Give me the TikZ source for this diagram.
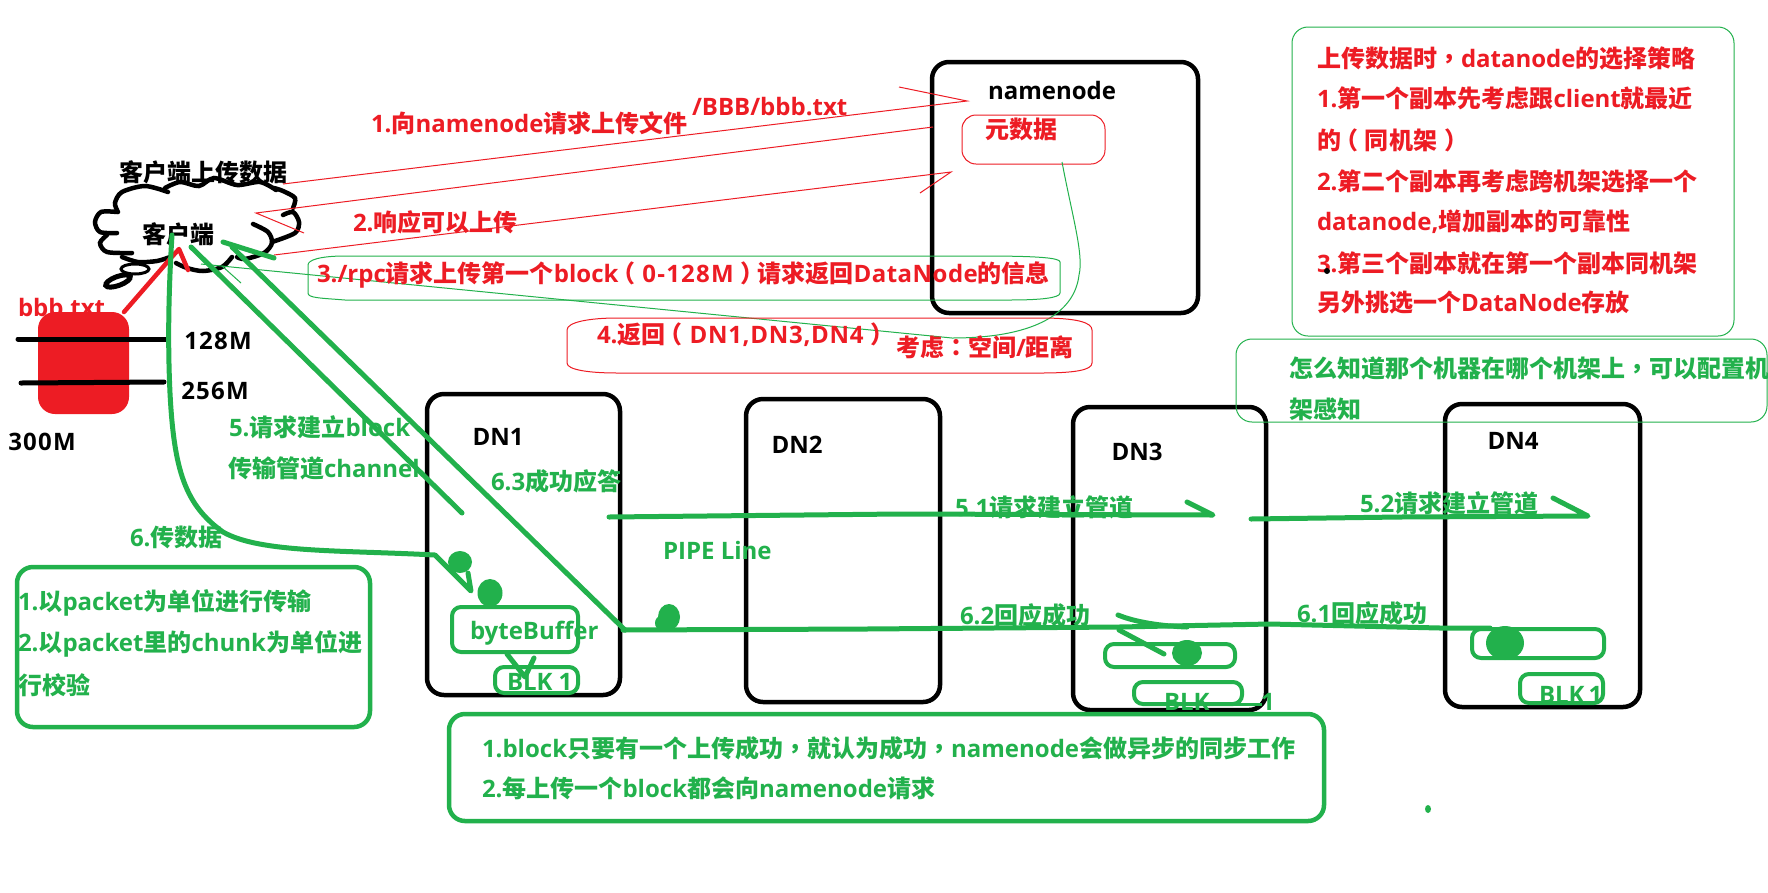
\documentclass[tikz,border=0pt]{standalone}
\usepackage{fontspec}
\setmainfont{Open Sans}
\newfontfamily\cjkfam{Noto Sans CJK SC}
\newfontfamily\cjktc{Noto Sans CJK TC}
\newcommand{\C}[1]{{\cjkfam\bfseries #1}}
\newcommand{\CM}{{\cjktc\bfseries ，}}
\newcommand{\CL}{{\cjktc\bfseries ：}}
\newcommand{\LP}{\hspace{-7pt}{\cjkfam\bfseries （}\hspace{7pt}}
\newcommand{\RP}{\hspace{7pt}{\cjkfam\bfseries ）}\hspace{-7pt}}
\newcommand{\W}[2][5]{{\addfontfeature{LetterSpace=#1}#2}}
\definecolor{pred}{HTML}{ED1C24}
\definecolor{pgreen}{HTML}{22B14C}
\tikzset{
  x=1pt,y=-1pt,
  lab/.style={inner sep=0pt,outer sep=0pt,font=\fontsize{24}{24}\selectfont\bfseries},
  redlab/.style={lab,text=pred,anchor=west},
  greenlab/.style={lab,text=pgreen,anchor=west},
  blacklab/.style={lab,text=black},
  blackbox/.style={draw=black,line width=4.5pt,rounded corners=17pt,inner sep=0pt,outer sep=0pt},
  greenbox/.style={draw=pgreen,line width=4.5pt,rounded corners=16pt,inner sep=0pt,outer sep=0pt},
  smallbox/.style={draw=pgreen,line width=4pt,rounded corners=9pt,inner sep=0pt,outer sep=0pt},
  thingreen/.style={draw=pgreen,line width=1pt,rounded corners=16pt,inner sep=0pt,outer sep=0pt},
  thinred/.style={draw=pred,line width=1pt,rounded corners=14pt,inner sep=0pt,outer sep=0pt},
  redthin/.style={draw=pred,line width=1pt},
  greenthin/.style={draw=pgreen,line width=1pt},
  greenthick/.style={draw=pgreen,line width=5pt,line cap=round,line join=round},
  redthick/.style={draw=pred,line width=4.5pt,line cap=round,line join=round},
  cloudline/.style={draw=black,line width=4.5pt,line cap=round},
  blob/.style={ellipse,fill=pgreen,inner sep=0pt,outer sep=0pt},
}
\usetikzlibrary{shapes.geometric}
\newcommand{\bx}[6]{\node[#1,minimum width={(#5-#3)*1pt},minimum height={(#6-#4)*1pt}] (#2) at ({(#3+#5)/2},{(#4+#6)/2}) {};}
\begin{document}
\begin{tikzpicture}
\path[fill=white,use as bounding box] (0,0) rectangle (1768,892);
\clip (0,0) rectangle (1768,892);

% black machine boxes
\bx{blackbox}{nn}{932}{62}{1198}{313}
\bx{blackbox}{dn1}{427}{394}{620}{695}
\bx{blackbox}{dn2}{746}{399}{940}{702}
\bx{blackbox}{dn3}{1073}{407}{1266}{710}
\bx{blackbox}{dn4}{1445}{404}{1640}{707}
\node[blacklab] (nnt) at (1052,90) {namenode};
\node[blacklab] (d1t) at (498,437) {DN1};
\node[blacklab] (d2t) at (797,445) {DN2};
\node[blacklab] (d3t) at (1137,452) {DN3};
\node[blacklab] (d4t) at (1513,441) {DN4};

% cloud
\draw[cloudline] plot[smooth] coordinates {(168,192)(145,186)(122,192)(115,203)(118,212)};
\draw[cloudline] plot[smooth] coordinates {(117,212)(101,212)(95,222)(100,232)(117,233)};
\draw[cloudline] plot[smooth] coordinates {(107,235)(100,243)(107,252)(132,253)};
\draw[cloudline] plot[smooth] coordinates {(122,257)(138,262)(157,261)(170,257)};
\draw[cloudline] plot[smooth] coordinates {(176,263)(187,268)(203,271)(222,267)(232,257)};
\draw[cloudline] plot[smooth] coordinates {(253,224)(268,232)(272,243)(264,253)(245,259)(237,257)};
\draw[cloudline] plot[smooth] coordinates {(272,242)(295,233)(299,222)(293,212)(283,215)};
\draw[cloudline] plot[smooth] coordinates {(293,208)(295,198)(283,191)(274,188)};
\draw[cloudline] plot[smooth] coordinates {(165,188)(180,182)(199,186)(214,178)(237,185)(260,182)(276,190)};
\node[ellipse,draw=black,line width=3pt,minimum width=28pt,minimum height=10pt,inner sep=0pt] (bub1) at (135,269) {};
\node[ellipse,draw=black,fill=white,line width=5pt,minimum width=26pt,minimum height=9pt,inner sep=0pt,rotate=20] (bub2) at (118,281) {};
\node[blacklab] (ctitle) at (203,172) {\C{客户端上传数据}};
\node[blacklab] (client) at (178,234) {\C{客户端}};

% file
\node[redlab] (fname) at (18,308) {bbb.txt};
\node[fill=pred,rounded corners=17pt,minimum width=91pt,minimum height=102pt,inner sep=0pt,outer sep=0pt] (file) at (83.5,363) {};
\coordinate (f1) at (124,312);
\coordinate (f2) at (170,259);
\coordinate (f3) at (179,249);
\coordinate (f4) at (188,270);
\draw[redthick] (f1) -- (f2) -- (f3) -- (f4);
\coordinate (c1a) at (18,339); \coordinate (c1b) at (168,339);
\coordinate (c2a) at (21,383); \coordinate (c2b) at (164,382);
\draw[black,line width=5pt,line cap=round] (c1a) -- (c1b);
\draw[black,line width=5pt,line cap=round] (c2a) -- (c2b);
\node[blacklab] (m128) at (218,341) {\W{128M}};
\node[blacklab] (m256) at (215,391) {\W{256M}};
\node[blacklab] (m300) at (42,442) {\W{300M}};

% red thin arrows
\coordinate (r1a) at (283,184); \coordinate (r1b) at (967,101); \coordinate (r1c) at (899,87);
\draw[redthin] (r1a) -- (r1b) -- (r1c);
\coordinate (r2a) at (933,127); \coordinate (r2b) at (256,213); \coordinate (r2c) at (304,233);
\draw[redthin] (r2a) -- (r2b) -- (r2c);
\coordinate (r3a) at (274,255); \coordinate (r3b) at (951,172); \coordinate (r3c) at (920,193);
\draw[redthin] (r3a) -- (r3b) -- (r3c);
\node[redlab] (t1) at (371,123) {1.\C{向}namenode\C{请求上传文件}};
\node[redlab] (t1b) at (692,107) {/BBB/bbb.txt};
\node[redlab] (t2) at (353,222) {2.\C{响应可以上传}};

% metadata
\bx{thinred}{meta}{962}{115}{1105}{164}
\node[redlab] (metat) at (985,129) {\C{元数据}};

% request bubble and reply curve
\draw[greenthin] (308,265) .. controls (308,260) and (320,256) .. (345,256) -- (982,256) .. controls (1040,256) and (1060,258) .. (1060,262) -- (1060,293) .. controls (1060,298) and (1040,300) .. (1010,300) -- (345,300) .. controls (320,298) and (308,298) .. (308,293) -- cycle;
\coordinate (g1a) at (1062,162); \coordinate (g1t) at (201,264); \coordinate (g1b) at (241,283); \coordinate (g1c) at (222,266);
\draw[greenthin] (g1a) .. controls (1072,215) and (1084,255) .. (1079,275) .. controls (1075,310) and (1040,338) .. (952,338) -- (g1t);
\draw[greenthin] (g1c) -- (g1b);
\node[redlab] (t3) at (317,275) {3./rpc\C{请求上传第一个}block\LP \W{0-128M}\RP\C{请求返回}\W[2]{DataNode}\C{的信息}};

% return bubble
\draw[redthin] (567,330) .. controls (567,322) and (590,318) .. (617,318) -- (1041,318) .. controls (1075,318) and (1092,322) .. (1092,330) -- (1092,363) .. controls (1092,370) and (1075,373) .. (1041,373) -- (617,373) .. controls (590,373) and (567,370) .. (567,363) -- cycle;
\node[redlab] (t4) at (597,335) {4.\C{返回}\LP \W[3]{DN1,DN3,DN4}\RP};
\node[redlab] (t4b) at (896,347) {\C{考虑}\CL\C{空间}/\C{距离}};

% strategy box
\bx{thingreen}{strat}{1292}{27}{1734}{336}
\node[redlab] (s1) at (1317,58) {\C{上传数据时}\CM datanode\C{的选择策略}};
\node[redlab] (s2) at (1317,98) {1.\C{第一个副本先考虑跟}client\C{就最近}};
\node[redlab] (s3) at (1317,140) {\C{的}\LP\C{同机架}\RP};
\node[redlab] (s4) at (1317,181) {2.\C{第二个副本再考虑跨机架选择一个}};
\node[redlab] (s5) at (1317,222) {datanode,\C{增加副本的可靠性}};
\node[redlab] (s6) at (1317,263) {3.\C{第三个副本就在第一个副本同机架}};
\node[redlab] (s7) at (1317,303) {\C{另外挑选一个}DataNode\C{存放}};
\node[circle,fill=black,minimum size=6pt,inner sep=0pt] (sdot) at (1327,271) {};

% rack box
\bx{thingreen}{rack}{1236}{339}{1767}{422}
\node[greenlab] (k1) at (1289,368) {\C{怎么知道那个机器在哪个机架上}\CM\C{可以配置机}};
\node[greenlab] (k2) at (1289,409) {\C{架感知}};

% DN1 internals
\node[blob,minimum width=24pt,minimum height=22pt] (d1) at (460,562) {};
\node[blob,minimum width=25pt,minimum height=28pt] (d2) at (490,593) {};
\bx{smallbox}{bb}{452}{607}{578}{652}
\node[greenlab] (bbt) at (470,633) {byteBuffer};
\bx{smallbox}{blk1}{495}{667}{578}{693}
\node[greenlab] (blk1t) at (507,682) {BLK\hspace{6pt}1};
\coordinate (a1) at (507,654); \coordinate (a2) at (525,677); \coordinate (a3) at (534,658);
\draw[greenthick] (a1) -- (a2) -- (a3);

% client green arrows
\coordinate (c1) at (172,235);
\coordinate (c2) at (435,555);
\coordinate (c3) at (471,591);
\coordinate (c4) at (468,573);
\draw[greenthick] (c1) .. controls (168,300) and (168,350) .. (170,393) .. controls (174,470) and (185,505) .. (223,532) .. controls (260,553) and (340,550) .. (c2) -- (c3) -- (c4);
\coordinate (p1) at (191,247); \coordinate (p2) at (462,513);
\draw[greenthick] (p1) -- (p2);
\coordinate (q1) at (625,630); \coordinate (q2) at (232,247); \coordinate (q3) at (223,242); \coordinate (q4) at (274,258);
\draw[greenthick] (q1) -- (q2);
\draw[greenthick] (q3) -- (q4);

% pipeline arrows
\coordinate (u1) at (609,517); \coordinate (u2) at (1213,515); \coordinate (u3) at (1187,502);
\draw[greenthick] (u1) -- (900,514) -- (u2) -- (u3);
\coordinate (v1) at (1251,519); \coordinate (v2) at (1588,516); \coordinate (v3) at (1553,498);
\draw[greenthick] (v1) -- (1400,517) -- (v2) -- (v3);
\coordinate (w1) at (623,630); \coordinate (w2) at (1490,628);
\draw[greenthick] (w1) -- (866,629) -- (1119,627) -- (1270,624) -- (1440,628) -- (w2);
\coordinate (x1) at (1118,615); \coordinate (x2) at (1187,627);
\draw[greenthick] (x1) .. controls (1135,622) and (1160,626) .. (x2);
\coordinate (x3) at (1119,630); \coordinate (x4) at (1164,654);
\draw[greenthick] (x3) -- (x4);
\node[blob,minimum width=22pt,minimum height=26pt] (pdot) at (669,617) {};
\node[blob,minimum width=12pt,minimum height=14pt] (pdot2) at (661,623) {};
\node[greenlab] (l51) at (955,507) {5.1\C{请求建立管道}};
\node[greenlab] (l52) at (1360,503) {5.2\C{请求建立管道}};
\node[greenlab] (l61) at (1297,613) {6.1\C{回应成功}};
\node[greenlab] (l62) at (960,615) {6.2\C{回应成功}};
\node[greenlab] (l63) at (491,481) {6.3\C{成功应答}};
\node[greenlab] (l5a) at (229,427) {5.\C{请求建立}block};
\node[greenlab] (l5b) at (228,468) {\C{传输管道}channel};
\node[greenlab] (l6) at (130,537) {6.\C{传数据}};
\node[greenlab] (pipe) at (663,550) {PIPE Line};

% DN3 internals
\bx{smallbox}{bb3}{1105}{644}{1235}{667}
\node[blob,minimum width=30pt,minimum height=26pt] (d3) at (1187,653) {};
\bx{smallbox}{blk3}{1134}{682}{1242}{704}
\node[greenlab] (blk3t) at (1164,702) {BLK};
\node[greenlab] (blk3n) at (1261,702) {1};
\coordinate (y1) at (1209,704); \coordinate (y2) at (1262,704);
\draw[pgreen,line width=3pt] (y1) -- (y2);

% DN4 internals
\bx{smallbox}{bb4}{1472}{629}{1604}{658}
\node[blob,minimum width=38pt,minimum height=34pt] (d4) at (1505,643) {};
\bx{smallbox}{blk4}{1520}{674}{1603}{703}
\node[greenlab] (blk4t) at (1539,695) {BLK\hspace{4pt}1};

% packet box
\bx{greenbox}{pk}{17}{567}{370}{727}
\node[greenlab] (pk1) at (18,603) {1.\C{以}packet\C{为单位进行传输}};
\node[greenlab] (pk2) at (18,644) {2.\C{以}packet\C{里的}chunk\C{为单位进}};
\node[greenlab] (pk3) at (18,685) {\C{行校验}};

% bottom box
\bx{greenbox}{bot}{449}{714}{1324}{821}
\node[greenlab] (b1) at (482,748) {1.block\C{只要有一个上传成功}\CM\C{就认为成功}\CM namenode\C{会做异步的同步工作}};
\node[greenlab] (b2) at (482,788) {2.\C{每上传一个}block\C{都会向}namenode\C{请求}};
\node[blob,minimum width=6pt,minimum height=8pt] (gdot) at (1428,809) {};
\end{tikzpicture}
\end{document}
